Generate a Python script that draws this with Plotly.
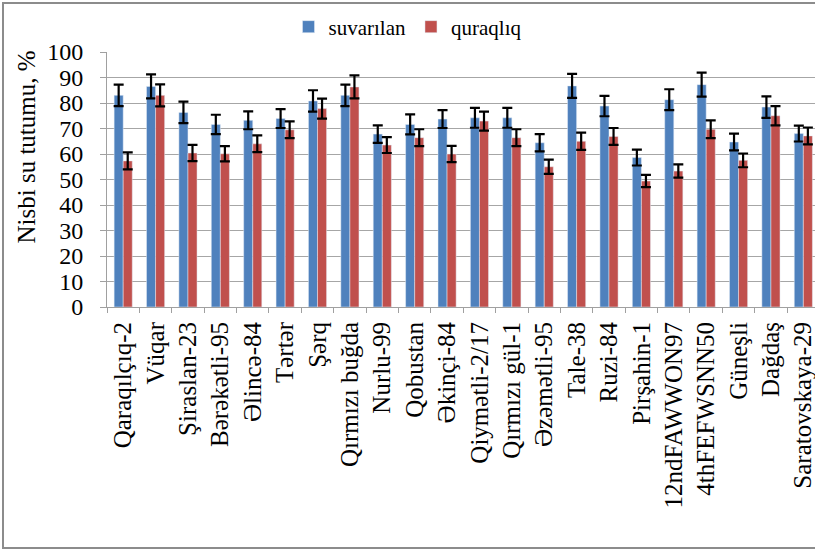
import plotly.graph_objects as go

categories = ["Qaraqılçıq-2", "Vüqar", "Şiraslan-23", "Bərəkətli-95", "Əlincə-84", "Tərtər",
              "Şərq", "Qırmızı buğda", "Nurlu-99", "Qobustan", "Əkinçi-84", "Qiymətli-2/17",
              "Qırmızı gül-1", "Əzəmətli-95", "Tale-38", "Ruzi-84", "Pirşahin-1",
              "12ndFAWWON97", "4thFEFWSNN50", "Güneşli", "Dağdaş", "Saratovskaya-29"]

suvarilan = [83, 86.5, 76.3, 71.6, 73.2, 73.9, 80.8, 83, 67.8, 71.6, 73.7, 74.2,
             74.2, 64.4, 86.7, 78.8, 58.6, 81.3, 87.2, 64.7, 78.4, 68]
suvarilan_err = [4.2, 4.7, 4.2, 3.8, 3.5, 3.7, 4.2, 4.2, 3.4, 3.9, 3.5, 3.9,
                 3.9, 3.4, 4.7, 4.0, 3.1, 4.1, 4.7, 3.3, 4.2, 3.1]
quraqliq = [57.3, 83, 60.4, 60.1, 64, 69.5, 77.8, 86.3, 63.5, 66.4, 60, 72.9,
            66.4, 55, 65, 66.9, 49.4, 53.3, 69.7, 57.5, 75, 67.1]
quraqliq_err = [3.3, 4.3, 3.2, 3.0, 3.3, 3.3, 3.9, 4.5, 3.1, 3.3, 3.2, 3.7,
                3.3, 2.8, 3.4, 3.3, 2.4, 2.6, 3.5, 2.7, 3.8, 3.3]

FONT = "Liberation Serif, Times New Roman, serif"

fig = go.Figure()
fig.add_trace(go.Bar(
    name="suvarılan", x=categories, y=suvarilan, marker_color="#4F81BD",
    error_y=dict(type="data", array=suvarilan_err, color="black", thickness=2.2, width=5),
))
fig.add_trace(go.Bar(
    name="quraqlıq", x=categories, y=quraqliq, marker_color="#C0504D",
    error_y=dict(type="data", array=quraqliq_err, color="black", thickness=2.2, width=5),
))

W, H = 815, 550
L, R, T, B = 107, 0, 52, 243
pw = W - L - R
ph = H - T - B

fig.update_layout(
    width=W, height=H,
    margin=dict(l=L, r=R, t=T, b=B, autoexpand=False),
    paper_bgcolor="white", plot_bgcolor="white",
    barmode="group", bargap=0.44, bargroupgap=0,
    font=dict(family=FONT, color="black"),
    showlegend=True,
    legend=dict(orientation="h", xref="container", yref="container",
                x=0.5, xanchor="center", y=1 - 27 / H, yanchor="middle",
                font=dict(size=21, family=FONT), itemwidth=30,
                traceorder="normal", bgcolor="rgba(0,0,0,0)"),
    xaxis=dict(
        type="category", range=[-0.5, 21.36], tickangle=-90,
        tickfont=dict(size=25, family=FONT),
        showline=True, linecolor="#A0A0A0", linewidth=1,
        ticks="outside", ticklen=5, tickcolor="#A0A0A0", tickson="boundaries",
        ticklabelstandoff=4, showgrid=False, automargin=False,
    ),
    yaxis=dict(
        range=[0, 100], dtick=10, tickfont=dict(size=24, family=FONT),
        showline=True, linecolor="#A0A0A0", linewidth=1,
        ticks="outside", ticklen=6, tickcolor="#A0A0A0",
        showgrid=True, gridcolor="#A6A6A6", gridwidth=1,
        zeroline=False, ticklabelstandoff=12, automargin=False,
    ),
    annotations=[dict(
        text="Nisbi su tutumu, %", textangle=-90, showarrow=False,
        xref="paper", yref="paper", x=(26 - L) / pw, y=(H - B - 147.5) / ph,
        xanchor="center", yanchor="middle", font=dict(size=25, family=FONT),
    )],
    shapes=[dict(
        type="rect", xref="paper", yref="paper",
        x0=(3 - L) / pw, x1=(W + 5 - L) / pw,
        y0=(H - B - 548) / ph, y1=(H - B - 3) / ph,
        line=dict(color="#8C8C8C", width=2), fillcolor="rgba(0,0,0,0)", layer="above",
    )],
)

fig.write_html(
    "out.html",
    config={"displayModeBar": False},
    post_script="document.body.style.margin='0';document.body.style.overflow='hidden';",
)
